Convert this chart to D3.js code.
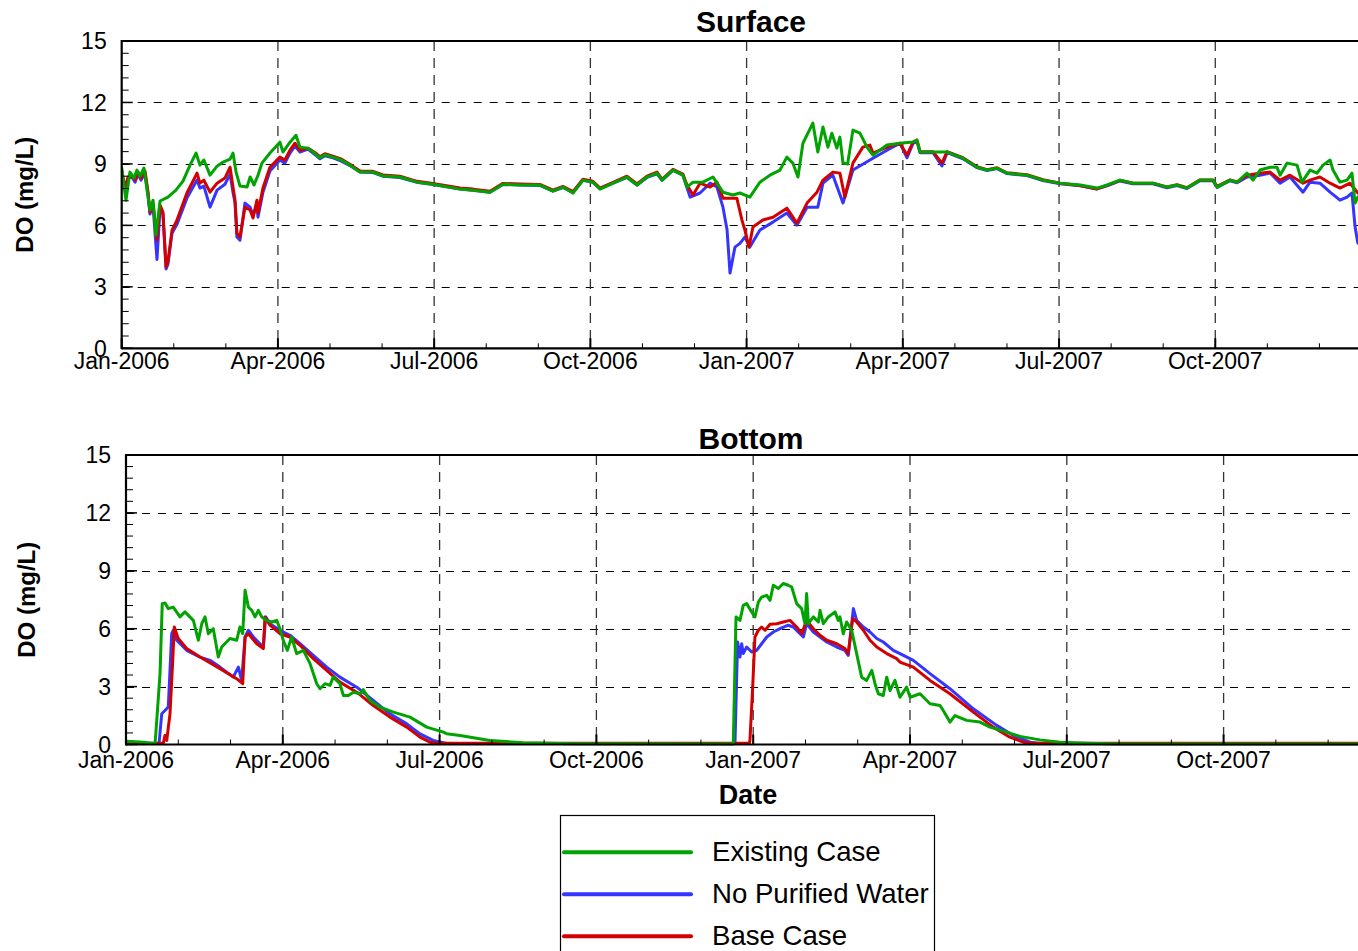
<!DOCTYPE html>
<html><head><meta charset="utf-8">
<script src="https://cdn.jsdelivr.net/npm/d3@7"></script>
<style>
body{margin:0;background:#fff;overflow:hidden}
svg{display:block}
text{font-family:"Liberation Sans",Arial,Helvetica,sans-serif;fill:#000}
</style></head>
<body><svg id="chart" width="1358" height="951"></svg>
<script>
// ---------- DATA (x = days since 1 Jan 2006, y = DO mg/L) ----------
const seriesNames = ["Existing Case", "No Purified Water", "Base Case"];
const xTickLabels = ["Jan-2006","Apr-2006","Jul-2006","Oct-2006","Jan-2007","Apr-2007","Jul-2007","Oct-2007"];
const xTickDays = [0, 91.25, 182.5, 273.75, 365, 456.25, 547.5, 638.75];
const yTicks = [0, 3, 6, 9, 12, 15];

const surfaceExisting = [
[0,8.8],[2.5,7.23],[4.8,8.6],[7.2,8.31],[8.9,8.7],[10.7,8.4],[13,8.8],[14.8,7.72],[16.5,6.75],[18.3,7.23],[20,5.53],
[22.4,7.19],[27,7.38],[31.7,7.72],[35.8,8.16],[39.9,8.94],[43.4,9.53],[45.7,8.94],[48,9.19],[51.6,8.45],[55.7,8.89],
[59.2,9.09],[63.3,9.23],[65,9.53],[66.8,8.6],[69.1,7.92],[73.2,7.87],[75,8.36],[77.3,7.97],[79.6,8.45],[81.9,9.04],
[86.6,9.53],[92.4,10.06],[94.2,9.58],[98.3,10.06],[101.8,10.4],[104.1,9.82],[108.8,9.77],
[113,9.5],[115.8,9.3],[118.7,9.45],[123.4,9.33],[128,9.2],[133.3,8.94],[139.2,8.6],[146.8,8.6],[152.6,8.41],[162.5,8.36],
[172.5,8.11],[181.8,8.01],[197.6,7.77],[205.2,7.72],[215.1,7.62],[222.7,8.01],[232.6,7.97],[244.3,7.97],[251.9,7.67],
[257.7,7.87],[263.6,7.58],[269.4,8.21],[275.2,8.11],[279.4,7.77],[287,8.06],[295.1,8.36],[301,7.97],[306.8,8.36],
[312.7,8.55],[315.6,8.21],[322,8.7],[327.8,8.45],
[330.2,7.87],[333.7,8.11],[339.5,8.11],[345.4,8.36],[351.2,7.62],[357,7.48],[361.1,7.58],[366.9,7.38],[372.8,8.11],
[378.6,8.45],[384.5,8.7],[388.5,9.33],[392,9.04],[395,8.36],[397.9,10.01],[403.7,10.99],[406.6,9.58],[409.6,10.8],
[412.5,9.82],[414.8,10.5],[417.7,9.77],[419.5,10.31],[421.3,9.04],[424,9.0],[427.1,10.65],[431.2,10.5],[435.3,9.82],
[438.8,9.43],[447,9.92],[454.6,10.01],
[462.2,10.07],[464.5,10.16],[466.3,9.58],[473.9,9.58],[482.1,9.58],[491.4,9.28],[499.6,8.84],[505.4,8.7],[511.3,8.79],
[517.1,8.55],[528.8,8.45],[538.1,8.21],[548.1,8.06],[559.8,7.97],[569.7,7.82],[575.5,7.97],[583.1,8.21],[590.7,8.06],
[602.4,8.06],[610.5,7.87],[616.4,7.97],[622.2,7.82],[629.8,8.21],[637.4,8.21],[639.8,7.87],[647.4,8.21],[651.5,8.11],
[657.3,8.55],[660.8,8.21],[664.9,8.7],[670.8,8.84],[674.8,8.84],[676.6,8.45],[680.7,9.04],[686.5,8.94],[689.4,8.11],
[694.1,8.7],[698.2,8.55],[701.7,8.94],[705.8,9.19],[707.5,8.7],[711.6,8.11],[715.7,8.21],[718.6,8.55],[720.4,7.09],[722,7.38]
];

const surfaceNoPurified = [
[0,8.6],[1.9,7.72],[3.7,8.31],[6,8.36],[7.8,8.11],[9.5,8.5],[11.3,8.21],[13.6,8.55],[15.4,7.48],[16.5,6.55],[18.3,6.99],
[20.6,4.34],[22.4,6.84],[24.1,6.55],[25.9,3.87],[27,4.11],[29.4,5.62],[32.3,6.06],[38.1,7.33],[44,8.21],[45.7,7.82],
[48,7.92],[51.6,6.89],[55.7,7.72],[60.3,8.01],[63.3,8.5],[65,7.62],[66.2,7.09],[67.3,5.43],[69.1,5.28],[72,7.09],
[75,6.89],[76.7,6.5],[79,6.99],[79.6,6.4],[82.5,7.62],[86.6,8.65],[92.4,9.19],[95.3,9.04],[98.3,9.53],[101.2,9.87],
[104.1,9.58],[108.8,9.72],
[113,9.45],[115.8,9.25],[118.7,9.4],[123.4,9.3],[128,9.15],[133.3,8.92],[139.2,8.6],[146.8,8.58],[152.6,8.4],[162.5,8.34],
[172.5,8.1],[181.8,8.0],[197.6,7.77],[205.2,7.72],[215.1,7.62],[222.7,8.0],[232.6,7.97],[244.3,7.95],[251.9,7.67],
[257.7,7.85],[263.6,7.6],[269.4,8.2],[275.2,8.1],[279.4,7.8],[287,8.06],[295.1,8.34],[301,7.97],[306.8,8.34],
[312.7,8.52],[315.6,8.2],[322,8.68],[327.8,8.45],
[332,7.38],[337.8,7.58],[343.7,8.06],[347.7,7.87],[351.2,6.89],[353.6,5.77],[355.3,3.67],[358.2,4.94],[361.1,5.12],
[364,5.43],[366.9,4.94],[372.8,5.77],[380.4,6.16],[388.5,6.6],[394.4,6.01],[400.3,6.89],[406.6,6.89],[409.6,8.06],
[415.4,8.45],[421.3,7.09],[427.1,8.7],[438.8,9.28],[447,9.67],[454.6,10.01],
[458.7,9.3],[462.2,10.0],[464.5,10.1],[466.3,9.55],[473.9,9.55],[479.1,8.9],[482.1,9.55],[491.4,9.25],[499.6,8.82],
[505.4,8.68],[511.3,8.77],[517.1,8.53],[528.8,8.43],[538.1,8.19],[548.1,8.03],[559.8,7.93],[569.7,7.78],[575.5,7.93],
[583.1,8.17],[590.7,8.03],[602.4,8.03],[610.5,7.84],[616.4,7.94],[622.2,7.8],[629.8,8.18],[637.4,8.18],[639.8,7.85],
[647.4,8.18],[651.5,8.08],
[657.3,8.36],[664.9,8.45],[670.8,8.55],[676.6,8.06],[682.4,8.36],[690,7.62],[694.1,8.11],[699.9,8.06],[705.8,7.62],
[711.6,7.23],[715.7,7.38],[718.6,7.58],[720.4,5.93],[722,5.14]
];

const surfaceBase = [
[0,8.7],[1.9,7.82],[3.7,8.36],[6,8.41],[7.8,8.21],[9.5,8.6],[11.3,8.31],[13.6,8.65],[15.4,7.62],[16.5,6.65],[18.3,7.09],
[20.6,5.28],[22.4,6.99],[24.1,6.65],[25.9,3.97],[27,4.21],[29.4,5.77],[32.3,6.26],[38.1,7.58],[44,8.55],[45.7,8.06],
[48,8.21],[51.6,7.62],[55.7,8.06],[60.3,8.31],[63.3,8.84],[65,7.87],[66.2,7.23],[67.3,5.62],[69.1,5.43],[72,6.89],
[75,6.75],[76.7,6.36],[79,7.23],[79.6,6.6],[82.5,7.82],[86.6,8.84],[92.4,9.33],[95.3,9.19],[98.3,9.67],[101.2,10.01],
[104.1,9.67],[108.8,9.77],
[113,9.55],[115.8,9.35],[118.7,9.5],[123.4,9.38],[128,9.25],[133.3,8.98],[139.2,8.65],[146.8,8.64],[152.6,8.46],[162.5,8.4],
[172.5,8.15],[181.8,8.05],[197.6,7.82],[205.2,7.77],[215.1,7.67],[222.7,8.05],[232.6,8.02],[244.3,8.0],[251.9,7.72],
[257.7,7.9],[263.6,7.65],[269.4,8.25],[275.2,8.15],[279.4,7.82],[287,8.1],[295.1,8.4],[301,8.02],[306.8,8.4],
[312.7,8.6],[315.6,8.25],[322,8.74],[327.8,8.5],
[330.2,7.97],[333.7,7.48],[337.8,8.06],[343.7,7.87],[347.7,8.11],[351.2,7.33],[359.3,7.33],[362.3,6.26],[364,5.77],
[366.4,4.94],[368.7,5.92],[374.5,6.26],[380.4,6.4],[388.5,6.84],[394.4,6.11],[400.3,7.09],[406.1,7.62],[409.6,8.21],
[415.4,8.6],[419.5,8.55],[422.4,7.38],[427.1,9.04],[432.9,9.82],[437,9.92],[438.8,9.53],[447,9.82],[454.6,10.01],
[458.7,9.43],[462.2,10.07],[464.5,10.16],[466.3,9.6],[473.9,9.6],[479.1,9.04],[482.1,9.6],[491.4,9.3],[499.6,8.86],
[505.4,8.72],[511.3,8.81],[517.1,8.57],[528.8,8.47],[538.1,8.23],[548.1,8.06],[559.8,7.95],[569.7,7.78],[575.5,7.95],
[583.1,8.2],[590.7,8.06],[602.4,8.06],[610.5,7.88],[616.4,7.98],[622.2,7.84],[629.8,8.22],[637.4,8.22],[639.8,7.9],
[647.4,8.22],[651.5,8.12],
[657.3,8.45],[664.9,8.55],[670.8,8.6],[676.6,8.21],[682.4,8.45],[690,8.06],[694.1,8.21],[699.9,8.36],[705.8,8.06],
[711.6,7.82],[717.4,8.06],[722,7.58]
];

const bottomExisting = [
[0,0.17],[8.1,0.13],[16.9,0.05],[17.9,1.25],[19.8,3.67],[21.1,7.3],[22.7,7.33],[24.6,7.04],[27.5,7.12],[31.4,6.61],
[34.3,6.87],[36.3,6.69],[39.2,6.43],[42.1,5.4],[44.1,6.26],[46,6.61],[47.9,5.74],[50.8,6.0],[53.7,4.53],[55.7,5.05],
[60.5,5.49],[64.4,5.4],[66.3,6.09],[67.9,5.74],[69.3,7.99],[71.2,7.12],[73.2,6.95],[75.1,6.61],[77,6.95],[79,6.61],
[81.9,6.43],[84.8,6.35],[87.7,6.43],[89.6,6.0],[91.5,5.4],[93.9,4.88],[96.4,5.57],[99.3,4.71],[103.2,4.88],[107.1,4.19],
[111,3.15],[112.9,2.89],[115.8,3.15],[118.7,3.06],[120.6,3.49],[124.5,3.15],[126.5,2.54],[129.4,2.54],[132.3,2.71],
[136.2,2.63],[138.1,2.84],[142,2.28],[147.8,1.94],[155.6,1.68],[165.3,1.42],[175,0.9],[184.7,0.64],[186.6,0.56],
[194.4,0.47],[211.8,0.21],[231,0.09],[260.1,0.04],[353.4,0.02],
[355,6.61],[357.3,6.43],[359.2,7.21],[361.2,7.3],[364.1,6.87],[366,6.61],[368,7.38],[369.9,7.64],[372.9,7.73],[374.8,7.47],
[376.7,8.25],[379.6,8.08],[382.5,8.34],[385.4,8.25],[387.4,8.16],[390.3,7.3],[393.2,7.04],[395.1,6.26],[396.1,7.82],
[397.1,6.26],[400,6.61],[402.9,6.35],[403.9,6.95],[405.8,6.26],[408.7,6.61],[412.6,6.87],[414.5,6.43],[415.5,6.61],
[417.4,5.74],[419.4,6.35],[422.3,5.92],[425.2,4.71],[428.1,3.49],[431,3.32],[434,3.84],[435.9,3.15],[437.8,2.63],
[440.7,2.54],[442.7,3.49],[444.6,2.8],[447.5,3.32],[450.4,2.45],[454.3,2.97],[456.3,2.45],[462.1,2.63],[467.9,2.11],
[473.7,2.02],[475.6,1.76],[479.5,1.16],[482.4,1.5],[489.2,1.25],[497,1.16],[502.8,0.9],[512.5,0.64],[520.3,0.42],
[531.9,0.24],[543.5,0.12],[559.1,0.07],[576.5,0.03],[730,0.02]
];

const bottomNoPurified = [
[0,0.05],[19.2,0.05],[20.8,1.59],[22.7,1.76],[24.6,1.94],[26.6,5.74],[27.5,5.92],[29.5,5.4],[35.3,4.88],[43.1,4.53],
[48.9,4.36],[54.7,4.01],[62.4,3.49],[65.4,4.01],[67.3,3.32],[69.3,5.57],[71.2,5.92],[74.1,5.57],[78,5.22],[79.9,5.05],
[81.3,6.61],[83.8,6.26],[89.6,5.92],[95.4,5.66],[101.3,5.22],[109,4.62],[116.8,4.01],[124.5,3.49],[134.3,2.97],
[143.9,2.28],[153.6,1.59],[163.4,1.07],[171.1,0.55],[178.8,0.21],[186.6,0.05],
[354.4,0.05],[355.9,5.31],[357.3,4.53],[358.3,5.22],[359.2,4.71],[361.2,5.05],[364.1,4.79],[367,4.88],[369.9,5.22],
[372.9,5.57],[376.7,5.83],[380.6,6.0],[385.4,6.18],[388.3,6.09],[391.2,5.83],[394.2,5.57],[396.1,6.26],[400,5.83],
[403.9,5.57],[407.8,5.31],[413.6,5.05],[418.4,4.88],[420.3,4.62],[423.3,7.04],[425.2,6.43],[429.1,6.09],[433,5.83],
[436.9,5.49],[440.7,5.31],[446.5,4.88],[450.4,4.71],[458.2,4.36],[467.9,3.67],[479.5,2.89],[493.1,1.85],[506.7,0.99],
[516.4,0.47],[526.1,0.12],[531.9,0.05],[730,0.05]
];

const bottomBase = [
[0,0.07],[21.7,0.07],[22.7,0.47],[23.7,0.21],[25.6,1.59],[27.2,4.36],[28.1,6.09],[30.4,5.49],[35.3,4.97],[43.1,4.53],
[54.7,3.93],[64.4,3.41],[67.9,3.15],[69.3,5.57],[71.2,5.74],[76.1,5.22],[79.9,4.97],[80.9,6.61],[83.8,6.18],[89.6,5.74],
[95.4,5.57],[101.3,5.14],[109,4.45],[116.8,3.84],[124.5,3.23],[134.3,2.71],[143.9,2.02],[153.6,1.42],[163.4,0.9],
[171.1,0.38],[176.9,0.12],[180.8,0.07],
[362.7,0.07],[363.1,0.21],[364.7,2.97],[366,5.57],[368,5.92],[369.9,6.09],[371.9,5.92],[374.8,6.23],[378.7,6.26],
[382.5,6.35],[386.4,6.43],[390.3,6.09],[393.2,5.74],[396.1,6.43],[400,6.0],[403.9,5.66],[407.8,5.4],[413.6,5.22],
[418.4,4.97],[420.3,4.71],[422.9,6.52],[425.2,6.35],[429.1,5.92],[433,5.4],[436.9,5.05],[442.7,4.71],[448.5,4.45],
[450.4,4.27],[458.2,4.01],[467.9,3.32],[479.5,2.63],[493.1,1.68],[504.7,0.9],[514.4,0.38],[522.2,0.12],[528,0.07],[730,0.07]
];

// ---------- LAYOUT ----------
const W = 1358, H = 951;
const colors = {"Existing Case":"#00a300","No Purified Water":"#3535ff","Base Case":"#d30000"};
const svg = d3.select("#chart");

const panels = [
  {title:"Surface", l:121.7, r:1371.5, t:41, b:348.3, titleY:32, tickY:369, ylabX:33,
   data:{"Existing Case":surfaceExisting,"No Purified Water":surfaceNoPurified,"Base Case":surfaceBase}},
  {title:"Bottom", l:126, r:1380.4, t:455, b:744.5, titleY:449, tickY:768, ylabX:35,
   data:{"Existing Case":bottomExisting,"No Purified Water":bottomNoPurified,"Base Case":bottomBase}}
];

const drawOrder = ["No Purified Water","Base Case","Existing Case"];

panels.forEach((p,i) => {
  const x = d3.scaleLinear().domain([0,730]).range([p.l,p.r]);
  const y = d3.scaleLinear().domain([0,15]).range([p.b,p.t]);
  const g = svg.append("g");
  const clipId = "clip"+i;
  svg.append("clipPath").attr("id",clipId).append("rect")
    .attr("x",p.l).attr("y",p.t).attr("width",Math.min(p.r,W)-p.l).attr("height",p.b-p.t+3);

  // grid
  g.selectAll(".hg").data(yTicks.filter(v=>v>0 && v<15)).enter().append("line")
    .attr("x1",p.l).attr("x2",W).attr("y1",d=>Math.round(y(d))+0.5).attr("y2",d=>Math.round(y(d))+0.5)
    .attr("stroke","#000").attr("stroke-width",1).attr("stroke-dasharray","8,8");
  g.selectAll(".vg").data(xTickDays.slice(1)).enter().append("line")
    .attr("x1",d=>x(d)).attr("x2",d=>x(d)).attr("y1",p.t).attr("y2",p.b)
    .attr("stroke","#333").attr("stroke-width",1.3).attr("stroke-dasharray","10,7");

  // series
  const line = d3.line().x(d=>x(d[0])).y(d=>y(d[1]));
  const sg = g.append("g").attr("clip-path",`url(#${clipId})`);
  drawOrder.forEach(name => {
    sg.append("path").datum(p.data[name]).attr("d",line)
      .attr("fill","none").attr("stroke",colors[name]).attr("stroke-width",3)
      .attr("stroke-linejoin","round").attr("stroke-linecap","round");
  });

  // axes frame
  g.append("line").attr("x1",p.l).attr("x2",W).attr("y1",p.t).attr("y2",p.t).attr("stroke","#000").attr("stroke-width",2.2);
  g.append("line").attr("x1",p.l).attr("x2",W).attr("y1",p.b).attr("y2",p.b).attr("stroke","#000").attr("stroke-width",2.2);
  g.append("line").attr("x1",p.l).attr("x2",p.l).attr("y1",p.t-1).attr("y2",p.b+1).attr("stroke","#000").attr("stroke-width",2.2);

  // y ticks (inward)
  const yMinor = d3.range(0,15.001,0.6);
  g.selectAll(".ymt").data(yMinor).enter().append("line")
    .attr("x1",p.l).attr("x2",p.l+7).attr("y1",d=>y(d)).attr("y2",d=>y(d))
    .attr("stroke","#000").attr("stroke-width",1);
  g.selectAll(".yMt").data(yTicks).enter().append("line")
    .attr("x1",p.l).attr("x2",p.l+11).attr("y1",d=>y(d)).attr("y2",d=>y(d))
    .attr("stroke","#000").attr("stroke-width",1.5);
  g.selectAll(".ytl").data(yTicks).enter().append("text")
    .attr("x",p.l-15).attr("y",d=>y(d)).attr("dy","0.36em").attr("text-anchor","end")
    .style("font-size","23px").text(d=>d);

  // x ticks (inward)
  const step = 91.25/3;
  const xMinor = d3.range(0,730.01,step);
  g.selectAll(".xmt").data(xMinor).enter().append("line")
    .attr("x1",d=>x(d)).attr("x2",d=>x(d)).attr("y1",p.b).attr("y2",p.b-5)
    .attr("stroke","#000").attr("stroke-width",1);
  g.selectAll(".xMt").data(xTickDays).enter().append("line")
    .attr("x1",d=>x(d)).attr("x2",d=>x(d)).attr("y1",p.b).attr("y2",p.b-10)
    .attr("stroke","#000").attr("stroke-width",2);
  g.selectAll(".xtl").data(xTickDays).enter().append("text")
    .attr("x",d=>x(d)).attr("y",p.tickY).attr("text-anchor","middle")
    .style("font-size","23px").text((d,j)=>xTickLabels[j]);

  // title & y label
  g.append("text").attr("x",751).attr("y",p.titleY).attr("text-anchor","middle")
    .style("font-size","30px").style("font-weight","bold").text(p.title);
  g.append("text").attr("transform",`translate(${p.ylabX},${(p.t+p.b)/2}) rotate(-90)`)
    .attr("text-anchor","middle").style("font-size","24px").style("font-weight","bold").text("DO (mg/L)");
});

// x-axis title
svg.append("text").attr("x",748).attr("y",804).attr("text-anchor","middle")
  .style("font-size","27px").style("font-weight","bold").text("Date");

// legend
const lg = svg.append("g");
lg.append("rect").attr("x",560.5).attr("y",815.5).attr("width",374).attr("height",200)
  .attr("fill","#fff").attr("stroke","#000").attr("stroke-width",1.2);
const legY = d3.scalePoint().domain(seriesNames).range([852.3,936.3]);
seriesNames.forEach(name => {
  lg.append("line").attr("x1",564).attr("x2",691).attr("y1",legY(name)).attr("y2",legY(name))
    .attr("stroke",colors[name]).attr("stroke-width",4).attr("stroke-linecap","round");
  lg.append("text").attr("x",712).attr("y",legY(name)+9).style("font-size","27.6px").text(name);
});
</script></body></html>
